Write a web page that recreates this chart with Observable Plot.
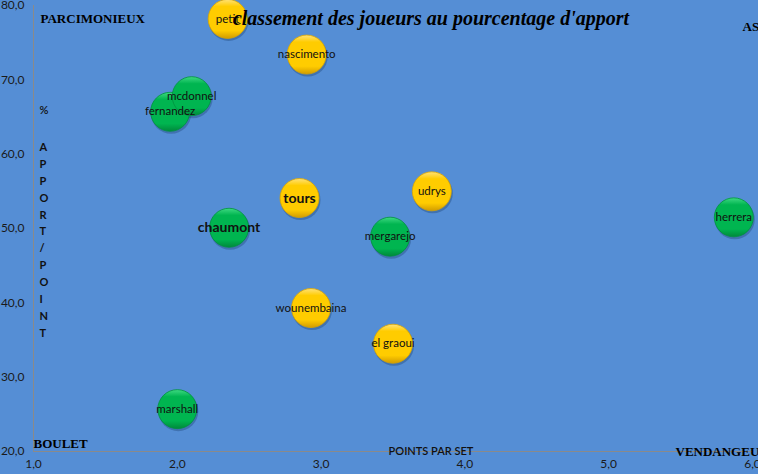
<!DOCTYPE html>
<html><head><meta charset="utf-8">
<script src="https://cdn.jsdelivr.net/npm/d3@7"></script>
<script src="https://cdn.jsdelivr.net/npm/@observablehq/plot@0.6"></script>
<style>
html,body{margin:0;padding:0;background:#558ED5;}
#chart svg{display:block;}
</style></head>
<body><div id="chart"></div>
<script>
const names = ["fernandez","petit","nascimento","mcdonnel","tours","udrys","chaumont","herrera","mergarejo","wounembaina","el graoui","marshall"];
const pointsParSet = [1.95,2.35,2.90,2.10,2.85,3.77,2.36,5.87,3.48,2.93,3.50,2.00];
const apportParPoint = [65.7,78.2,73.4,67.8,54.1,55.0,50.1,51.5,48.9,39.3,34.5,25.7];
const groupes = ["vert","jaune","jaune","vert","jaune","jaune","vert","vert","vert","jaune","jaune","vert"];
const enVedette = ["tours","chaumont"];
const xTicks = [1,2,3,4,5,6];
const yTicks = [20,30,40,50,60,70,80];
const titre = "classement des joueurs au pourcentage d'apport";
const yTitre = "APPORT/POINT".split("").join("\n");

const data = names.map((n,i)=>({nom:n, x:pointsParSet[i], y:apportParPoint[i], g:groupes[i], bold:enVedette.includes(n)}));
const fmt = d => d.toFixed(1).replace(".", ",");
const fontT = "Lato, 'Open Sans', sans-serif";
const fontCorner = "'Liberation Serif', serif";

const chart = Plot.plot({
  width: 758, height: 474,
  marginLeft: 33, marginRight: 6, marginTop: 5, marginBottom: 23,
  style: {background: "#558ED5", fontFamily: fontT, fontSize: "12px", color: "#1a1a1a"},
  x: {domain: [1,6], ticks: xTicks, tickFormat: fmt, tickSize: 0, tickPadding: 8, label: null},
  y: {domain: [20,80], ticks: yTicks, tickFormat: fmt, tickSize: 0, tickPadding: 9, label: null},
  marks: [
    Plot.ruleX([1], {stroke: "#8a8a8a", strokeWidth: 1}),
    Plot.ruleY([20], {stroke: "#8a8a8a", strokeWidth: 1}),
    Plot.dot(data, {x:"x", y:"y", r:20, dx:1, dy:2, fill:"#1b3f6e", fillOpacity:0.35}),
    Plot.dot(data, {x:"x", y:"y", r:19.5, fill: d => d.g === "jaune" ? "url(#gradJ)" : "url(#gradV)", stroke: d => d.g === "jaune" ? "#d9a400" : "#00903f", strokeWidth: 0.8}),
    Plot.text(data.filter(d=>!d.bold), {x:"x", y:"y", text:"nom", fontSize: 11.5, fill:"#111"}),
    Plot.text(data.filter(d=>d.bold), {x:"x", y:"y", text:"nom", fontSize: 14, fontWeight:"bold", fill:"#111"}),
    Plot.text([titre], {frameAnchor:"top", dx: 38, dy: 13, lineAnchor:"middle", fontFamily:"'Liberation Serif', serif", fontStyle:"italic", fontWeight:"bold", fontSize: 20, fill:"#000"}),
    Plot.text(["PARCIMONIEUX"], {frameAnchor:"top-left", textAnchor:"start", dx: 7, dy: 13, lineAnchor:"middle", fontFamily: fontCorner, fontWeight:"900", fontSize: 13, fill:"#000"}),
    Plot.text(["BOULET"], {frameAnchor:"bottom-left", textAnchor:"start", dx: 0, dy: -8, lineAnchor:"middle", fontFamily: fontCorner, fontWeight:"900", fontSize: 13, fill:"#000"}),
    Plot.text(["VENDANGEUR"], {frameAnchor:"bottom-right", textAnchor:"start", dx: -77, dy: 0, lineAnchor:"middle", fontFamily: fontCorner, fontWeight:"900", fontSize: 13, fill:"#000"}),
    Plot.text(["AS"], {frameAnchor:"top-right", textAnchor:"start", dx: -10, dy: 21, lineAnchor:"middle", fontFamily: fontCorner, fontWeight:"900", fontSize: 13, fill:"#000"}),
    Plot.text(["POINTS PAR SET"], {frameAnchor:"bottom", dx: 38, dy: 0, lineAnchor:"middle", fontSize: 11, fontWeight: 600, fill:"#111"}),
    Plot.text(["%"], {frameAnchor:"left", dx: 6, dy: -118, lineAnchor:"middle", fontSize: 11, fontWeight: 600, fill:"#111"}),
    Plot.text([yTitre], {frameAnchor:"left", dx: 6, dy: 10, lineAnchor:"middle", lineHeight: 1.54, fontSize: 11, fontWeight: 700, fill:"#111"})
  ]
});

const defs = d3.select(chart).insert("defs", ":first-child");
function grad(id, light, main, dark) {
  const g = defs.append("linearGradient").attr("id", id).attr("x1",0).attr("y1",0).attr("x2",0).attr("y2",1);
  g.append("stop").attr("offset","0%").attr("stop-color", light);
  g.append("stop").attr("offset","18%").attr("stop-color", main);
  g.append("stop").attr("offset","80%").attr("stop-color", main);
  g.append("stop").attr("offset","100%").attr("stop-color", dark);
}
grad("gradJ", "#ffe27a", "#ffcc00", "#d29c00");
grad("gradV", "#3fd982", "#00b550", "#00893b");
document.getElementById("chart").appendChild(chart);
</script></body></html>
